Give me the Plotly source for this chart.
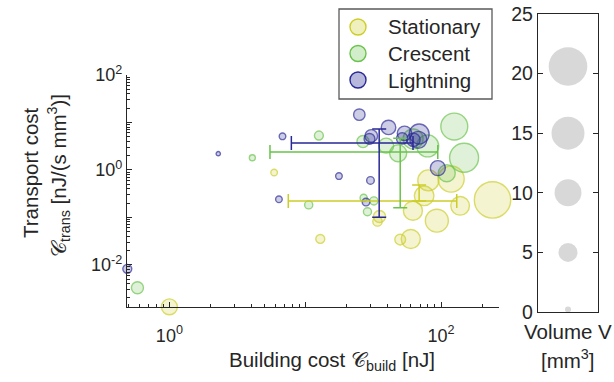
import plotly.graph_objects as go

# ---------------- data ----------------
stat_x = [1.0, 5.9, 12.9, 35.2, 34.0, 50, 59.8, 62, 93, 138, 239, 75, 80.5, 118.5]
stat_y = [0.0013, 0.88, 0.035, 0.104, 0.082, 0.034, 0.035, 0.138, 0.085, 0.175, 0.233, 0.284, 0.6, 0.64]
stat_v = [3.5, 0.6, 1.1, 2.0, 1.2, 1.6, 5.0, 5.0, 7.3, 4.8, 18.3, 5.3, 6.1, 9.4]

cres_x = [0.582, 12.6, 4.08, 10.6, 26.9, 32, 28.7, 125, 147.6, 110, 79.6, 48.3, 39.4, 26.6, 62.2]
cres_y = [0.00328, 5.3, 1.8, 0.183, 0.257, 0.222, 0.131, 8.2, 1.8, 0.85, 3.2, 2.24, 3.25, 3.95, 4.5]
cres_v = [2.0, 1.1, 0.5, 0.9, 0.7, 0.9, 0.9, 10, 11.6, 4.0, 6.7, 4.0, 3.1, 2.0, 5.5]

light_x = [0.49, 2.29, 6.8, 6.4, 17.7, 30.2, 28.0, 94.6, 25, 41, 30.6, 29.7, 53.8, 51.7, 68.9, 68, 62.5]
light_y = [0.0082, 2.2, 5.1, 0.24, 0.74, 0.60, 0.21, 1.09, 14.6, 7.85, 5.2, 4.5, 5.9, 4.6, 5.7, 4.3, 4.3]
light_v = [1.1, 0.25, 0.6, 0.6, 0.6, 0.8, 0.8, 3.1, 1.8, 2.9, 2.2, 1.6, 2.9, 1.8, 5.5, 4.0, 2.5]

# category means and standard deviations (error bars)
groups = ["Stationary", "Crescent", "Lightning"]
mean_x = [68.9, 50.0, 35.0]
mean_y = [0.222, 2.39, 3.70]
std_x = [61.4, 44.5, 27.1]
std_y_plus = [0.261, 2.23, 3.6]
std_y_minus = [0.0, 2.23, 3.6]

# volume legend
vol_legend = [0.2, 5, 10, 15, 20.6]
vol_ticks = [0, 5, 10, 15, 20, 25]

# ---------------- styles ----------------
edge = {"Stationary": "rgb(205,205,40)", "Crescent": "rgb(105,195,75)", "Lightning": "rgb(40,40,150)"}
face = {"Stationary": "rgba(205,205,40,0.3)", "Crescent": "rgba(105,195,75,0.3)", "Lightning": "rgba(40,40,150,0.33)"}
SIZEREF = 2 / 72.25
FONT = "Liberation Sans, Arial, sans-serif"
AX = "#262626"
W, H = 614, 382


def fx(px):
    return px / W


def fy(py):
    return 1 - py / H


fig = go.Figure()

series = [("Stationary", stat_x, stat_y, stat_v),
          ("Crescent", cres_x, cres_y, cres_v),
          ("Lightning", light_x, light_y, light_v)]

for name, xs, ys, vs in series:
    fig.add_trace(go.Scatter(
        x=xs, y=ys, mode="markers", name=name, showlegend=False, cliponaxis=False,
        marker=dict(size=vs, sizemode="area", sizeref=SIZEREF, sizemin=2,
                    color=face[name], line=dict(color=edge[name], width=1.4)),
        xaxis="x", yaxis="y"))

for i, name in enumerate(groups):
    fig.add_trace(go.Scatter(
        x=[mean_x[i]], y=[mean_y[i]], mode="markers", showlegend=False,
        marker=dict(size=1, opacity=0),
        error_x=dict(type="data", array=[std_x[i]], color=edge[name], thickness=1.5, width=7),
        error_y=dict(type="data", symmetric=False, array=[std_y_plus[i]], arrayminus=[std_y_minus[i]],
                     color=edge[name], thickness=1.5, width=7),
        xaxis="x", yaxis="y"))

# volume scale panel
fig.add_trace(go.Scatter(
    x=[0.5] * len(vol_legend), y=vol_legend, mode="markers", showlegend=False, cliponaxis=False,
    marker=dict(size=vol_legend, sizemode="area", sizeref=SIZEREF, sizemin=3,
                color="rgb(200,200,200)", line=dict(width=0)),
    xaxis="x2", yaxis="y2"))

x_minor = [k * 10 ** e for e in range(-1, 3) for k in range(2, 10)]
y_minor = [k * 10 ** e for e in range(-3, 2) for k in range(2, 10)]

shapes = []
annotations = []

# legend (box, symbols, labels)
LEG_L, LEG_T, LEG_R, LEG_B = 339, 9, 492, 99
shapes.append(dict(type="rect", xref="paper", yref="paper", x0=fx(LEG_L), x1=fx(LEG_R),
                   y0=fy(LEG_B), y1=fy(LEG_T), line=dict(color="#5a5a5a", width=1.3),
                   fillcolor="white", layer="above"))
for i, name in enumerate(groups):
    row_y = fy(27 + i * 26.5)
    shapes.append(dict(type="circle", xref="paper", yref="paper", xsizemode="pixel", ysizemode="pixel",
                       xanchor=fx(358), yanchor=row_y, x0=-8, x1=8, y0=-8, y1=8,
                       fillcolor=face[name], line=dict(color=edge[name], width=1.4), layer="above"))
    annotations.append(dict(text=name, x=fx(386), y=row_y, xref="paper", yref="paper",
                            xanchor="left", yanchor="middle", showarrow=False,
                            font=dict(size=20.5, color=AX)))

annotations += [
    dict(text="Transport cost", x=fx(30), y=fy(173), xref="paper", yref="paper",
         textangle=-90, showarrow=False, font=dict(size=20.5), xanchor="center", yanchor="middle"),
    dict(text="𝒞<sub>trans</sub> [nJ/(s mm<sup>3</sup>)]", x=fx(58), y=fy(176), xref="paper", yref="paper",
         textangle=-90, showarrow=False, font=dict(size=20.5), xanchor="center", yanchor="middle"),
    dict(text="Building cost 𝒞<sub>build</sub> [nJ]", x=fx(332), y=fy(361), xref="paper", yref="paper",
         showarrow=False, font=dict(size=20.5), xanchor="center", yanchor="middle"),
    dict(text="Volume V", x=fx(568), y=fy(331), xref="paper", yref="paper",
         showarrow=False, font=dict(size=20.5), xanchor="center", yanchor="middle"),
    dict(text="[mm<sup>3</sup>]", x=fx(568), y=fy(359), xref="paper", yref="paper",
         showarrow=False, font=dict(size=20.5), xanchor="center", yanchor="middle"),
]

fig.update_layout(
    template="none",
    width=W, height=H, margin=dict(l=0, r=0, t=0, b=0, pad=0, autoexpand=False),
    paper_bgcolor="white", plot_bgcolor="white", showlegend=False,
    font=dict(family=FONT, size=18, color=AX),
    xaxis=dict(type="log", range=[-0.312, 2.426], domain=[fx(127), fx(499)], anchor="y", automargin=False,
               showline=True, linecolor=AX, linewidth=1.3, ticks="inside", ticklen=5, tickcolor=AX, tickwidth=1,
               tickvals=[1, 10, 100], ticktext=["10<sup>0</sup>", "", "10<sup>2</sup>"],
               minor=dict(tickvals=x_minor, ticks="inside", ticklen=3, tickcolor=AX, tickwidth=1),
               ticklabelstandoff=12,
               showgrid=False, zeroline=False, tickfont=dict(size=18)),
    yaxis=dict(type="log", range=[-2.89, 2.0], domain=[fy(307), fy(75)], anchor="x", automargin=False,
               showline=True, linecolor=AX, linewidth=1.3, ticks="inside", ticklen=5, tickcolor=AX, tickwidth=1,
               tickvals=[0.01, 0.1, 1, 10, 100],
               ticktext=["10<sup>-2</sup>", "", "10<sup>0</sup>", "", "10<sup>2</sup>"],
               minor=dict(tickvals=y_minor, ticks="inside", ticklen=3, tickcolor=AX, tickwidth=1),
               showgrid=False, zeroline=False, tickfont=dict(size=18)),
    xaxis2=dict(range=[0, 1], domain=[fx(538), fx(598)], anchor="y2", showline=True, mirror=True,
                automargin=False, linecolor=AX, linewidth=1.3, showticklabels=False, ticks="",
                showgrid=False, zeroline=False),
    yaxis2=dict(range=[0, 25], domain=[fy(312), fy(14)], anchor="x2", showline=True, mirror="ticks",
                automargin=False, linecolor=AX, linewidth=1.3, ticks="inside", ticklen=5, tickcolor=AX,
                tickvals=vol_ticks, showgrid=False, zeroline=False, tickfont=dict(size=19.5)),
    shapes=shapes,
    annotations=annotations,
)

fig.write_html("out.html")
